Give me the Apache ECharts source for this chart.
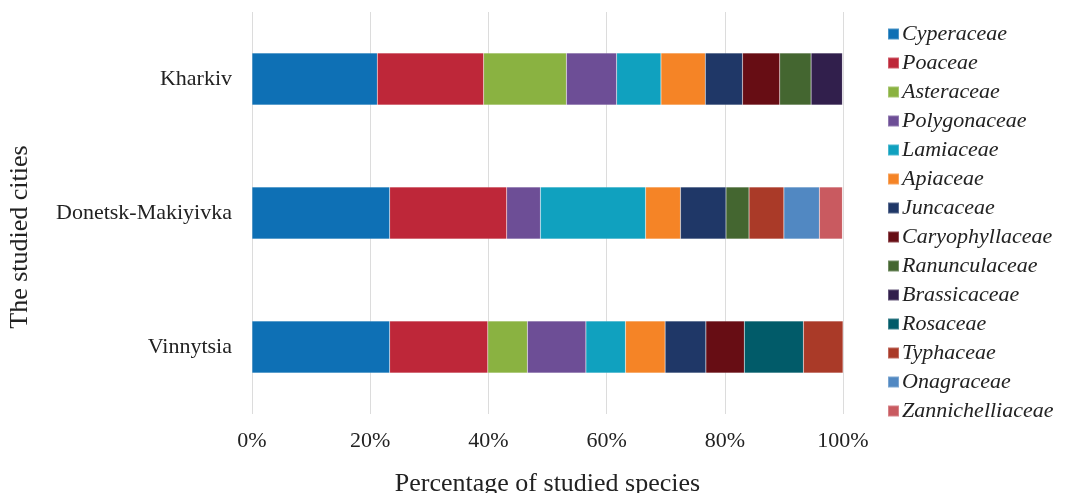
<!DOCTYPE html>
<html>
<head>
<meta charset="utf-8">
<script src="https://cdn.jsdelivr.net/npm/echarts@6/dist/echarts.min.js"></script>
<style>html,body{margin:0;padding:0;background:#fff}#c{width:1066px;height:493px}</style>
</head>
<body>
<div id="c"></div>
<script>
// categories bottom -> top
const cities = ['Vinnytsia', 'Donetsk-Makiyivka', 'Kharkiv'];
const families = ['Cyperaceae','Poaceae','Asteraceae','Polygonaceae','Lamiaceae','Apiaceae','Juncaceae','Caryophyllaceae','Ranunculaceae','Brassicaceae','Rosaceae','Typhaceae','Onagraceae','Zannichelliaceae'];
const colors = ['#0e70b5','#be2739','#8ab241','#6d4e96','#10a1bf','#f58426','#1f3767','#670d14','#446630','#311f4c','#015b69','#aa3a28','#5188c2','#c95a60'];
// values per family: [Vinnytsia, Donetsk-Makiyivka, Kharkiv] (%)
const Cyperaceae      = [23.3, 23.3, 21.2];
const Poaceae         = [16.6, 19.8, 18.0];
const Asteraceae      = [6.7, null, 14.0];
const Polygonaceae    = [9.9, 5.7, 8.5];
const Lamiaceae       = [6.7, 17.8, 7.5];
const Apiaceae        = [6.7, 5.9, 7.5];
const Juncaceae       = [6.9, 7.7, 6.3];
const Caryophyllaceae = [6.5, null, 6.3];
const Ranunculaceae   = [null, 3.9, 5.3];
const Brassicaceae    = [null, null, 5.3];
const Rosaceae        = [10.0, null, null];
const Typhaceae       = [6.7, 5.9, null];
const Onagraceae      = [null, 6.0, null];
const Zannichelliaceae= [null, 3.9, null];
const values = [Cyperaceae,Poaceae,Asteraceae,Polygonaceae,Lamiaceae,Apiaceae,Juncaceae,Caryophyllaceae,Ranunculaceae,Brassicaceae,Rosaceae,Typhaceae,Onagraceae,Zannichelliaceae];
const xTicks = [0, 20, 40, 60, 80, 100];

const serif = 'Liberation Serif';
const chart = echarts.init(document.getElementById('c'));
chart.setOption({
  animation: false,
  color: colors,
  grid: { left: 252, right: 223, top: 12, bottom: 79, containLabel: false, outerBoundsMode: 'none' },
  legend: {
    orient: 'vertical', left: 882, top: 18,
    itemWidth: 11, itemHeight: 11, itemGap: 7, icon: 'rect',
    textStyle: { fontFamily: serif, fontStyle: 'italic', fontSize: 22, color: '#222', padding: [0,0,0,-2] },
    data: families
  },
  xAxis: {
    type: 'value', min: xTicks[0], max: xTicks[xTicks.length-1], interval: 20,
    axisLine: { show: false }, axisTick: { show: false },
    splitLine: { show: true, lineStyle: { color: '#dcdcdc', width: 1 } },
    axisLabel: { formatter: '{value}%', fontFamily: serif, fontSize: 22, color: '#222', margin: 16 },
    name: 'Percentage of studied species', nameLocation: 'middle', nameGap: 57,
    nameTextStyle: { fontFamily: serif, fontSize: 26, color: '#222' }
  },
  yAxis: {
    type: 'category', data: cities,
    axisLine: { show: false }, axisTick: { show: false },
    axisLabel: { fontFamily: serif, fontSize: 22, color: '#222', margin: 20 },
    name: 'The studied cities', nameLocation: 'middle', nameGap: 219,
    nameTextStyle: { fontFamily: serif, fontSize: 26, color: '#222', padding: [0, 48, 0, 0] }
  },
  series: families.map((f, i) => ({
    name: f, type: 'bar', stack: 'total', barWidth: 52,
    data: values[i],
    itemStyle: { borderColor: 'rgba(255,255,255,0.25)', borderWidth: 0.5 }
  }))
});
</script>
</body>
</html>
